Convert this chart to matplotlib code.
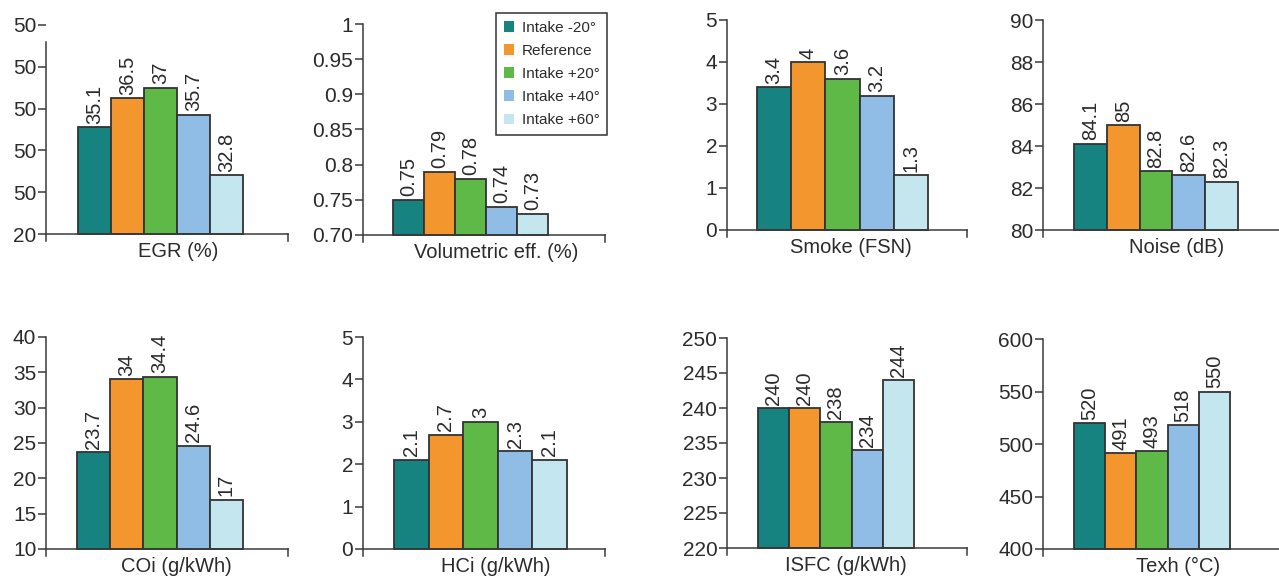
import matplotlib
matplotlib.use("Agg")
import matplotlib.pyplot as plt
import numpy as np

plt.rcParams['font.family'] = ['Liberation Sans', 'DejaVu Sans']

series = ["Intake -20°", "Reference", "Intake +20°", "Intake +40°", "Intake +60°"]
colors = ["#178380", "#f4962e", "#5fb946", "#8fbde6", "#c3e6ef"]

titles = ["EGR (%)", "Volumetric eff. (%)", "Smoke (FSN)", "Noise (dB)",
          "COi (g/kWh)", "HCi (g/kWh)", "ISFC (g/kWh)", "Texh (°C)"]

egr = [35.1, 36.5, 37, 35.7, 32.8]
vol_eff = [0.75, 0.79, 0.78, 0.74, 0.73]
smoke = [3.4, 4, 3.6, 3.2, 1.3]
noise = [84.1, 85, 82.8, 82.6, 82.3]
coi = [23.7, 34, 34.4, 24.6, 17]
hci = [2.1, 2.7, 3, 2.3, 2.1]
isfc = [240, 240, 238, 234, 244]
texh = [520, 491, 493, 518, 550]
values = [egr, vol_eff, smoke, noise, coi, hci, isfc, texh]

# y ticks per panel (the EGR labels are printed like that in the original)
egr_ticks = [30, 32, 34, 36, 38, 40]
egr_ticklabels = ["20", "50", "50", "50", "50", "50"]
vol_ticks = [0.70, 0.75, 0.80, 0.85, 0.90, 0.95, 1.0]
vol_ticklabels = ["0.70", "0.75", "0.8", "0.85", "0.9", "0.95", "1"]
smoke_ticks = [0, 1, 2, 3, 4, 5]
noise_ticks = [80, 82, 84, 86, 88, 90]
coi_ticks = [10, 15, 20, 25, 30, 35, 40]
hci_ticks = [0, 1, 2, 3, 4, 5]
isfc_ticks = [220, 225, 230, 235, 240, 245, 250]
texh_ticks = [400, 450, 500, 550, 600]
ticks = [egr_ticks, vol_ticks, smoke_ticks, noise_ticks,
         coi_ticks, hci_ticks, isfc_ticks, texh_ticks]
ticklabels = [egr_ticklabels, vol_ticklabels] + [[f"{t:g}" for t in tt] for tt in ticks[2:]]

W, H = 1279, 576
# pixel layout: spine x, right end x, top y, base y, bar start, bar end, label centre
boxes = [
    (46, 288, 25, 234, 78, 243, 178),
    (363, 605, 24, 235, 393, 548, 496),
    (727, 967, 20, 230, 757, 928, 851),
    (1043, 1290, 20, 230, 1074, 1238, 1177),
    (46, 288, 337, 549, 77, 243, 176),
    (363, 605, 337, 549, 394, 567, 496),
    (727, 967, 338, 548, 758, 914, 846),
    (1043, 1290, 339, 549, 1074, 1230, 1178),
]

dark = "#2b2b2b"
ext = 7  # px the left spine runs below the base line

fig = plt.figure(figsize=(W / 100, H / 100), dpi=100)

for k in range(8):
    x0, x1, yt, yb, b0, b1, lc = boxes[k]
    lo, hi = ticks[k][0], ticks[k][-1]
    per_px = (hi - lo) / (yb - yt)
    ylow = lo - ext * per_px
    ax = fig.add_axes([x0 / W, 1 - (yb + ext) / H, (x1 - x0) / W, (yb + ext - yt) / H])
    ax.patch.set_alpha(0)

    ppu = (b1 - b0) / 5
    ax.set_xlim(-0.5 - (b0 - x0) / ppu, 4.5 + (x1 - b1) / ppu)
    ax.set_ylim(ylow, hi)

    x = np.arange(5)
    vals = values[k]
    ax.bar(x, np.array(vals) - lo, bottom=lo, width=1.0, color=colors,
           edgecolor="#333333", linewidth=1.3, zorder=2)
    for i, v in enumerate(vals):
        ax.annotate(f"{v:g}", xy=(i, v), xytext=(0, 2.5), textcoords="offset points",
                    rotation=90, ha="center", va="bottom", fontsize=14.5, color=dark)

    ax.spines["top"].set_visible(False)
    ax.spines["right"].set_visible(False)
    ax.spines["bottom"].set_position(("data", lo))
    for s in ["left", "bottom"]:
        ax.spines[s].set_color("#3a3a3a")
        ax.spines[s].set_linewidth(1.1)
    if k == 0:
        ax.spines["left"].set_bounds(ylow, 39.2)
    # little down tick at the right end of the base line
    ax.plot([1, 1], [lo, ylow], transform=ax.get_yaxis_transform(),
            color="#3a3a3a", lw=1.1, clip_on=False)

    ax.set_xticks([])
    ax.set_yticks(ticks[k])
    ax.set_yticklabels(ticklabels[k])
    ax.tick_params(axis="y", length=6, width=1.1, color="#3a3a3a",
                   labelsize=15, labelcolor=dark, pad=1)

    ax.annotate(titles[k], xy=((lc - x0) / (x1 - x0), lo),
                xycoords=("axes fraction", "data"), xytext=(0, -6),
                textcoords="offset points", ha="center", va="top",
                fontsize=14.5, color=dark)

handles = [plt.Rectangle((0, 0), 1, 1, facecolor=c, edgecolor="none") for c in colors]
leg = fig.legend(handles, series, loc="upper left",
                 bbox_to_anchor=(496 / W, 1 - 13 / H), borderaxespad=0,
                 fontsize=11, handlelength=0.7, handleheight=0.7,
                 handletextpad=0.5, labelspacing=0.6, borderpad=0.5,
                 fancybox=False, framealpha=1)
leg.get_frame().set_edgecolor("#333333")
leg.get_frame().set_linewidth(1.1)
for t in leg.get_texts():
    t.set_color(dark)

fig.savefig("out.png", dpi=100)
